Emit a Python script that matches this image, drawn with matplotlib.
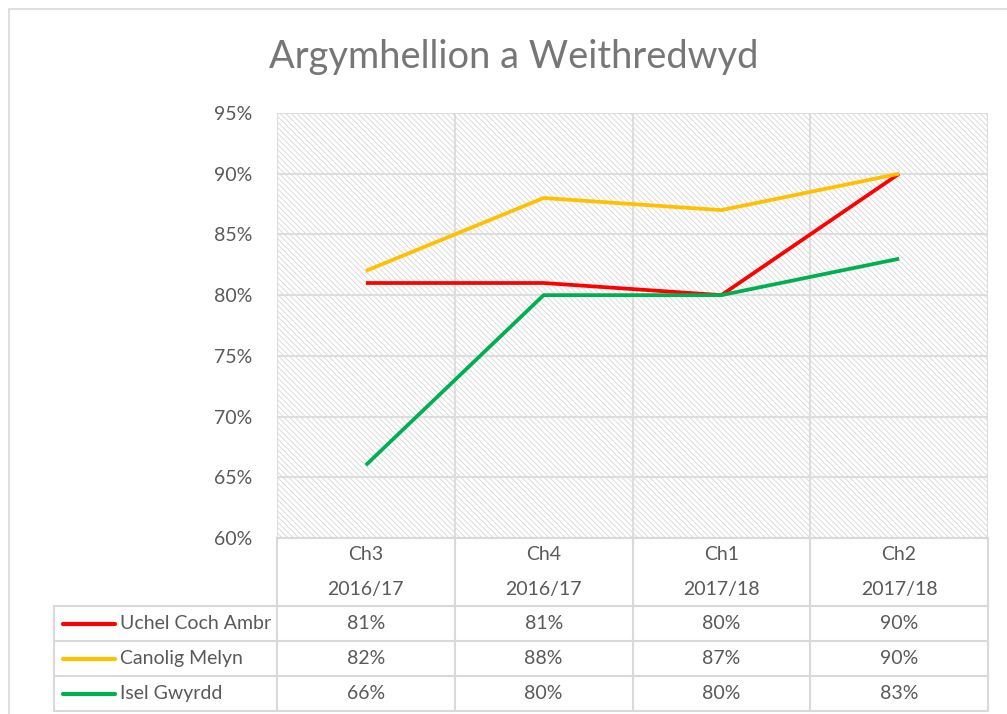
import matplotlib
matplotlib.use("Agg")
import matplotlib.pyplot as plt
import matplotlib.transforms as mtransforms
from matplotlib.lines import Line2D
from matplotlib.patches import Rectangle
import numpy as np

plt.rcParams['font.family'] = ['Lato', 'DejaVu Sans']
plt.rcParams['hatch.linewidth'] = 0.6

title = "Argymhellion a Weithredwyd"
cat_top = ["Ch3", "Ch4", "Ch1", "Ch2"]
cat_bottom = ["2016/17", "2016/17", "2017/18", "2017/18"]
series_names = ["Uchel Coch Ambr", "Canolig Melyn", "Isel Gwyrdd"]
uchel = [0.81, 0.81, 0.80, 0.90]
canolig = [0.82, 0.88, 0.87, 0.90]
isel = [0.66, 0.80, 0.80, 0.83]
series_values = [uchel, canolig, isel]
colors = ["#FF0000", "#FFC000", "#00B050"]
yticks = [0.60, 0.65, 0.70, 0.75, 0.80, 0.85, 0.90, 0.95]

W, H = 1007, 714
fig = plt.figure(figsize=(W / 100, H / 100), dpi=100)

def fx(x):
    return x / W

def fy(y):
    return 1 - y / H

text_col = "#595959"
title_col = "#767676"
grid_col = "#DDDDDD"

# outer border
fig.patches.append(Rectangle((fx(9), fy(740)), fx(1020) - fx(9), fy(9) - fy(740),
                             transform=fig.transFigure, fill=False,
                             edgecolor="#D9D9D9", linewidth=1.2))

left, right, top, bottom = 277, 988, 113, 538
ax = fig.add_axes([fx(left), fy(bottom), fx(right) - fx(left), fy(top) - fy(bottom)])
n = len(cat_top)
ax.set_xlim(-0.5, n - 0.5)
ax.set_ylim(min(yticks), max(yticks))

# hatched background
ax.add_patch(Rectangle((-0.5, min(yticks)), n, max(yticks) - min(yticks),
                       facecolor="white", edgecolor="#D6D6D6", hatch="\\\\\\\\\\\\",
                       linewidth=0, zorder=0))
ax.set_facecolor("white")

ax.set_yticks(yticks)
ax.set_yticklabels([f"{int(round(v*100))}%" for v in yticks], fontsize=14, color=text_col)
ax.set_xticks(np.arange(-0.5, n, 1.0))
ax.set_xticklabels([])
ax.tick_params(axis='both', length=0, pad=17.5)
ax.grid(True, color=grid_col, linewidth=1.5, zorder=1)
for s in ax.spines.values():
    s.set_visible(False)

x = np.arange(n)
for vals, c in zip(series_values, colors):
    ax.plot(x, vals, color=c, linewidth=2.7, zorder=3, solid_capstyle='butt')

fig.text(fx(513.5), fy(57), title, fontsize=27.4, color=title_col, ha='center', va='center')

# data table
bt = mtransforms.blended_transform_factory(ax.transData, fig.transFigure)
ft = fig.transFigure
tab_col = "#D9D9D9"
lw = 1.5
h_top = 538
row_edges = [606, 641, 676, 711]

def hline(x0, x1, y):
    fig.add_artist(Line2D([fx(x0), fx(x1)], [fy(y), fy(y)], transform=ft, color=tab_col, linewidth=lw))

def vline(x0, y0, y1):
    fig.add_artist(Line2D([fx(x0), fx(x0)], [fy(y0), fy(y1)], transform=ft, color=tab_col, linewidth=lw))

hline(left, right, h_top)
for ye in row_edges:
    hline(54, right, ye)
for i in range(n + 1):
    xb = left + (right - left) * i / n
    vline(xb, h_top, row_edges[-1])
vline(54, row_edges[0], row_edges[-1])

for i in range(n):
    fig.text(i, fy(555), cat_top[i], transform=bt, ha='center', va='center', fontsize=14, color=text_col)
    fig.text(i, fy(589), cat_bottom[i], transform=bt, ha='center', va='center', fontsize=14, color=text_col)

for r, (name, vals, c) in enumerate(zip(series_names, series_values, colors)):
    yc = (row_edges[r] + row_edges[r + 1]) / 2
    fig.add_artist(Line2D([fx(63), fx(115)], [fy(yc), fy(yc)], transform=ft, color=c,
                          linewidth=3, solid_capstyle='round'))
    fig.text(fx(120), fy(yc), name, ha='left', va='center', fontsize=14, color=text_col)
    for i, v in enumerate(vals):
        fig.text(i, fy(yc), f"{int(round(v*100))}%", transform=bt, ha='center', va='center',
                 fontsize=14, color=text_col)

fig.savefig("out.png", dpi=100)
